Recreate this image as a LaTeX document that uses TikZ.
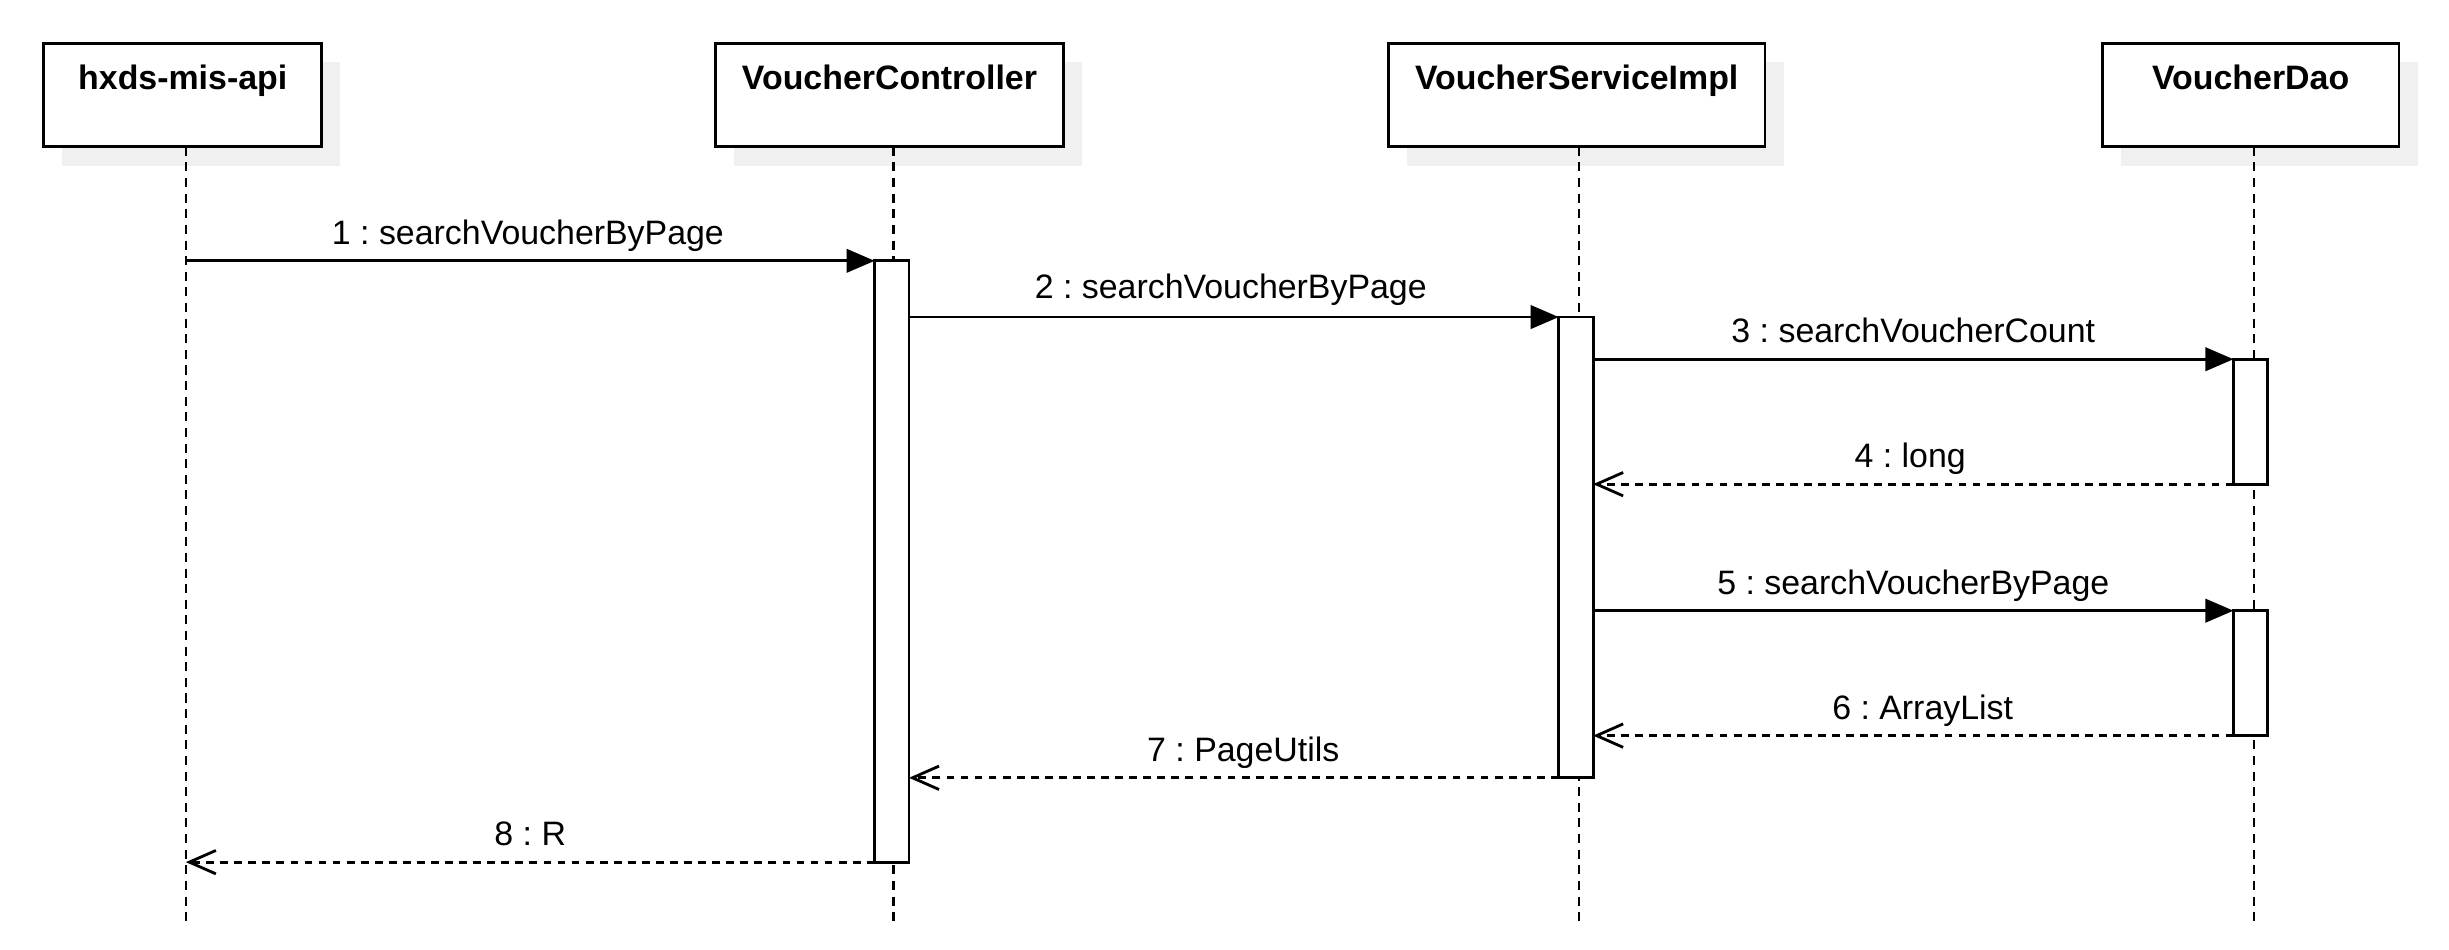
\documentclass[tikz,border=0pt]{standalone}
\usepackage{fontspec}
\setmainfont{Liberation Sans}
\usetikzlibrary{arrows.meta,shadows}
\frenchspacing
\begin{document}
\begin{tikzpicture}[x=0.5pt,y=-0.5pt,
  every node/.style={inner sep=0pt,outer sep=0pt},
  lbl/.style={font=\fontsize{10.85}{13}\selectfont,anchor=base},
  partbox/.style={draw,line width=0.9pt,fill=white,
    font=\fontsize{10.85}{13}\selectfont\bfseries,
    minimum height=33pt,text height=14.5pt,text depth=18.5pt,
    drop shadow={shadow xshift=6pt,shadow yshift=-6pt,fill=black!6,opacity=1}},
  lifeline/.style={line width=0.8pt,dash pattern=on 2.9pt off 2.1pt},
  act/.style={draw,line width=0.9pt,fill=white,minimum width=11pt},
  call/.style={line width=0.9pt,-{Triangle[length=9pt,width=7.5pt]}},
  reply/.style={line width=0.9pt,dash pattern=on 2.5pt off 2pt,
    -{Straight Barb[length=8.5pt,width=7.5pt,line width=0.9pt]}}]
\useasboundingbox (0,0) rectangle (1568,608);

% participants
\node[partbox,minimum width=89pt,anchor=north west] (api) at (28,28) {hxds-mis-api};
\node[partbox,minimum width=111.5pt,anchor=north west] (ctl) at (458,28) {VoucherController};
\node[partbox,minimum width=120.5pt,anchor=north west] (svc) at (889,28) {VoucherServiceImpl};
\node[partbox,minimum width=95pt,anchor=north west] (dao) at (1346,28) {VoucherDao};

% lifelines
\coordinate (apiT) at (119,94);  \coordinate (apiB) at (119,593);
\coordinate (ctlT) at (572,94);  \coordinate (ctlB) at (572,593);
\coordinate (svcT) at (1011,94); \coordinate (svcB) at (1011,593);
\coordinate (daoT) at (1443,94); \coordinate (daoB) at (1443,593);
\draw[lifeline] (apiT) -- (apiB);
\draw[lifeline] (ctlT) -- (ctlB);
\draw[lifeline] (svcT) -- (svcB);
\draw[lifeline] (daoT) -- (daoB);

% activations
\node[act,minimum height=192.5pt,anchor=north] (actC) at (571,167) {};
\node[act,minimum height=147.5pt,anchor=north] (actS) at (1009,203) {};
\node[act,minimum height=40pt,anchor=north] (actD1) at (1441,230) {};
\node[act,minimum height=40pt,anchor=north] (actD2) at (1441,391) {};

% messages
\draw[call] (apiT |- actC.north west) -- (actC.north west)
  node[lbl,pos=0.5,xshift=-0.75pt,yshift=5.25pt] (m1) {1 : searchVoucherByPage};
\draw[call] (actC.east |- actS.north west) -- (actS.north west)
  node[lbl,pos=0.5,xshift=-1pt,yshift=6pt] (m2) {2 : searchVoucherByPage};
\draw[call] (actS.east |- actD1.north west) -- (actD1.north west)
  node[lbl,pos=0.5,yshift=5.5pt] (m3) {3 : searchVoucherCount};
\draw[reply] (actD1.south west) -- (actS.east |- actD1.south west)
  node[lbl,pos=0.5,xshift=-1pt,yshift=5.25pt] (m4) {4 : long};
\draw[call] (actS.east |- actD2.north west) -- (actD2.north west)
  node[lbl,pos=0.5,yshift=5.25pt] (m5) {5 : searchVoucherByPage};
\draw[reply] (actD2.south west) -- (actS.east |- actD2.south west)
  node[lbl,pos=0.5,xshift=3pt,yshift=5.25pt] (m6) {6 : ArrayList};
\draw[reply] (actS.south west) -- (actC.east |- actS.south west)
  node[lbl,pos=0.5,xshift=3pt,yshift=5.25pt] (m7) {7 : PageUtils};
\draw[reply] (actC.south west) -- (apiT |- actC.south west)
  node[lbl,pos=0.5,yshift=5.25pt] (m8) {8 : R};
\end{tikzpicture}
\end{document}
